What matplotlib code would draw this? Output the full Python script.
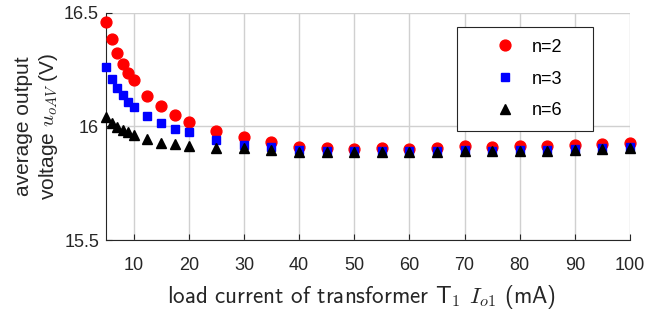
import matplotlib
matplotlib.use("Agg")
import matplotlib.pyplot as plt

plt.rcParams['font.family'] = ['Liberation Sans', 'DejaVu Sans']
plt.rcParams['mathtext.fontset'] = 'cm'

current_mA = [5, 6, 7, 8, 9, 10, 12.5, 15, 17.5, 20, 25, 30, 35, 40, 45, 50, 55, 60, 65, 70, 75, 80, 85, 90, 95, 100]
v_n2 = [16.46, 16.385, 16.325, 16.275, 16.237, 16.205, 16.134, 16.09, 16.05, 16.02, 15.98, 15.952, 15.93,
        15.911, 15.907, 15.901, 15.907, 15.901, 15.907, 15.914, 15.910, 15.913, 15.913, 15.919, 15.924, 15.929]
v_n3 = [16.261, 16.208, 16.168, 16.137, 16.109, 16.087, 16.046, 16.017, 15.99, 15.974, 15.939, 15.92, 15.908,
        15.895, 15.893, 15.89, 15.891, 15.89, 15.891, 15.896, 15.894, 15.896, 15.897, 15.901, 15.904, 15.909]
v_n6 = [16.043, 16.014, 15.999, 15.985, 15.974, 15.962, 15.944, 15.929, 15.922, 15.916, 15.907, 15.904, 15.896,
        15.889, 15.889, 15.886, 15.887, 15.886, 15.887, 15.893, 15.890, 15.893, 15.893, 15.897, 15.899, 15.905]
labels = ["n=2", "n=3", "n=6"]
xticks = [10, 20, 30, 40, 50, 60, 70, 80, 90, 100]
yticks = [15.5, 16, 16.5]
ytick_labels = ["15.5", "16", "16.5"]

fig = plt.figure(figsize=(6.56, 3.16), dpi=100)
ax = fig.add_axes([0.1616, 0.2405, 0.7988, 0.7184])

ax.plot(current_mA, v_n2, linestyle='none', marker='o', color='#ff0000', markersize=7.8, label=labels[0],
        zorder=3, clip_on=False)
ax.plot(current_mA, v_n3, linestyle='none', marker='s', color='#0000ff', markersize=5.6, label=labels[1],
        zorder=4, clip_on=False)
ax.plot(current_mA, v_n6, linestyle='none', marker='^', color='#000000', markersize=7.5, label=labels[2],
        zorder=5, clip_on=False)

ax.set_xlim(5, 100)
ax.set_ylim(15.5, 16.5)
ax.set_xticks(xticks)
ax.set_yticks(yticks)
ax.set_yticklabels(ytick_labels)
ax.grid(True, color='#d0d0d0', linewidth=1)
ax.set_axisbelow(True)
for s in ['top', 'right']:
    ax.spines[s].set_visible(False)
for s in ['left', 'bottom']:
    ax.spines[s].set_color('#262626')
    ax.spines[s].set_linewidth(0.8)
ax.tick_params(direction='in', length=4, width=0.8, colors='#262626', labelsize=13, labelcolor='#262626')
ax.tick_params(axis='x', pad=12)
ax.tick_params(axis='y', pad=5)

ax.set_xlabel("load current of transformer T$_1$ $I_{o1}$ (mA)", fontsize=16.6, family=['cmss10', 'DejaVu Sans'],
              color='#262626', labelpad=7)
ax.xaxis.label.set_x(0.487)
ax.set_ylabel("average output\nvoltage $u_{oAV}$ (V)", fontsize=15, color='#262626', labelpad=3,
              linespacing=1.2)

leg = ax.legend(loc='upper left', bbox_to_anchor=(0.6698, 0.9383, 0.2595, 0.0), mode='expand',
                fontsize=13, frameon=True, fancybox=False, edgecolor='#262626', framealpha=1,
                handlelength=4.0, handletextpad=-0.5, borderpad=0.65, labelspacing=0.82,
                borderaxespad=0, numpoints=1)
leg.get_frame().set_linewidth(0.8)
leg.set_zorder(10)

fig.savefig("out.png", dpi=100)
